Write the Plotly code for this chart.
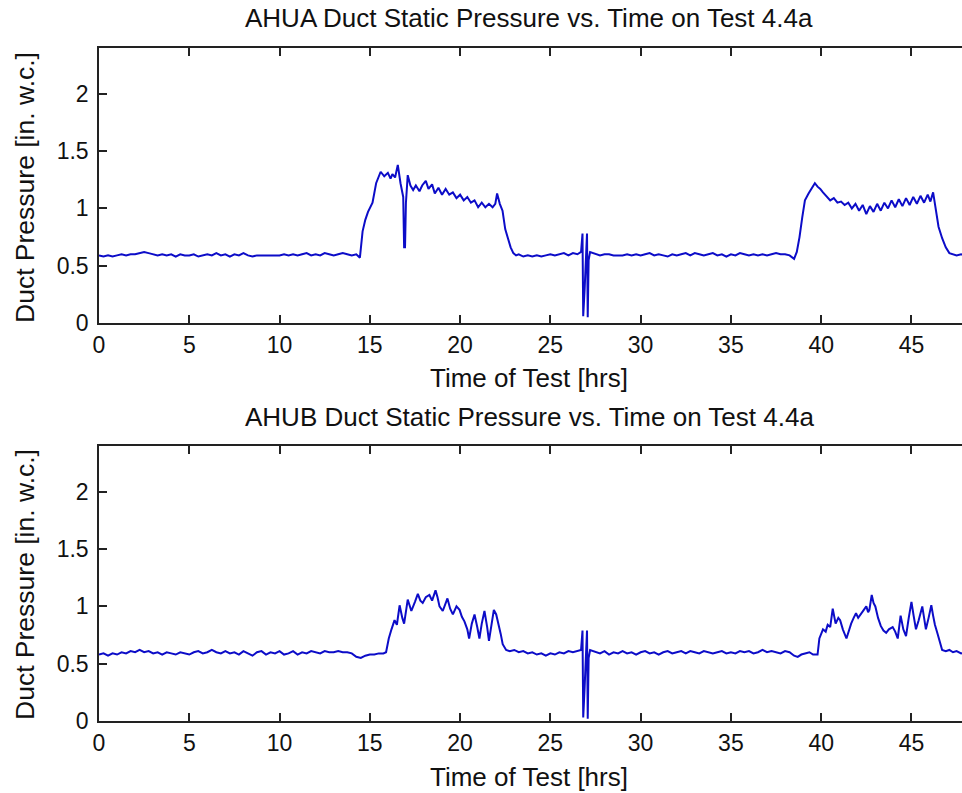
import plotly.graph_objects as go

# ---- data: (time of test [hrs], duct static pressure [in. w.c.]) ----
ahua_samples = [
    (0.0, .59), (0.25, .58), (0.5, .59), (0.75, .58), (1.0, .59), (1.25, .60), (1.5, .59), (1.75, .60),
    (2.0, .60), (2.25, .61), (2.5, .62), (2.75, .61), (3.0, .60), (3.25, .59), (3.5, .60), (3.75, .59),
    (4.0, .60), (4.25, .58), (4.5, .60), (4.75, .59), (5.0, .59), (5.25, .60), (5.5, .58), (5.75, .59),
    (6.0, .60), (6.25, .59), (6.5, .61), (6.75, .59), (7.0, .60), (7.25, .58), (7.5, .60), (7.75, .59),
    (8.0, .61), (8.25, .59), (8.5, .58), (8.75, .59), (9.0, .59), (9.25, .59), (9.5, .59), (9.75, .59),
    (10.0, .59), (10.25, .60), (10.5, .59), (10.75, .60), (11.0, .59), (11.25, .60), (11.5, .61), (11.75, .59),
    (12.0, .60), (12.25, .59), (12.5, .61), (12.75, .60), (13.0, .59), (13.25, .60), (13.5, .61), (13.75, .60),
    (14.0, .59), (14.25, .60), (14.45, .57), (14.6, .80), (14.75, .90), (14.9, .97), (15.15, 1.05), (15.35, 1.22),
    (15.5, 1.28), (15.6, 1.32), (15.8, 1.28), (16.0, 1.31), (16.15, 1.26), (16.25, 1.30), (16.4, 1.27), (16.55, 1.38),
    (16.7, 1.22), (16.85, 1.10), (16.9, 0.66), (16.95, 0.66), (17.0, 1.05), (17.1, 1.29), (17.25, 1.20), (17.4, 1.16),
    (17.55, 1.20), (17.75, 1.15), (17.9, 1.20), (18.1, 1.24), (18.25, 1.17), (18.45, 1.21), (18.6, 1.13), (18.8, 1.18),
    (19.0, 1.12), (19.2, 1.17), (19.4, 1.12), (19.6, 1.14), (19.8, 1.09), (20.0, 1.12), (20.2, 1.07), (20.4, 1.10),
    (20.6, 1.05), (20.8, 1.07), (21.0, 1.01), (21.2, 1.05), (21.4, 1.01), (21.6, 1.04), (21.8, 1.01), (21.95, 1.04),
    (22.05, 1.13), (22.2, 1.04), (22.35, 0.98), (22.5, 0.82), (22.65, 0.74), (22.8, 0.66), (22.95, 0.61), (23.1, 0.59),
    (23.25, .60), (23.5, .58), (23.75, .59), (24.0, .58), (24.25, .59), (24.5, .58), (24.75, .59), (25.0, .60),
    (25.25, .59), (25.5, .60), (25.75, .61), (26.0, .59), (26.25, .61), (26.5, .60), (26.7, .62), (26.78, .78),
    (26.82, .06), (26.9, .30), (26.97, .60), (27.03, .78), (27.07, .05), (27.12, .55), (27.2, .62), (27.5, .60),
    (27.75, .59), (28.0, .60), (28.25, .60), (28.5, .59), (28.75, .59), (29.0, .59), (29.25, .60), (29.5, .59),
    (29.75, .60), (30.0, .59), (30.25, .60), (30.5, .61), (30.75, .59), (31.0, .60), (31.25, .59), (31.5, .58),
    (31.75, .60), (32.0, .59), (32.25, .60), (32.5, .61), (32.75, .59), (33.0, .61), (33.25, .60), (33.5, .59),
    (33.75, .60), (34.0, .61), (34.25, .59), (34.5, .60), (34.75, .58), (35.0, .60), (35.25, .59), (35.5, .61),
    (35.75, .60), (36.0, .59), (36.25, .60), (36.5, .59), (36.75, .60), (37.0, .59), (37.25, .60), (37.5, .61),
    (37.75, .60), (38.0, .60), (38.25, .59), (38.5, .56), (38.65, .62), (38.8, .75), (38.95, .92), (39.1, 1.07),
    (39.3, 1.13), (39.5, 1.18), (39.65, 1.22), (39.8, 1.19), (39.95, 1.17), (40.1, 1.14), (40.3, 1.10), (40.5, 1.07),
    (40.7, 1.09), (40.9, 1.05), (41.1, 1.06), (41.3, 1.03), (41.5, 1.05), (41.7, 1.00), (41.9, 1.04), (42.1, 0.98),
    (42.3, 1.03), (42.5, 0.95), (42.7, 1.02), (42.9, 0.97), (43.1, 1.04), (43.3, 0.98), (43.5, 1.05), (43.7, 1.00),
    (43.9, 1.07), (44.1, 1.01), (44.3, 1.08), (44.5, 1.02), (44.7, 1.09), (44.9, 1.03), (45.1, 1.10), (45.3, 1.04),
    (45.5, 1.11), (45.7, 1.05), (45.9, 1.12), (46.05, 1.06), (46.2, 1.14), (46.35, 0.98), (46.5, 0.84), (46.7, 0.74),
    (46.9, 0.66), (47.1, 0.61), (47.3, 0.60), (47.5, 0.59), (47.75, 0.60), (48.0, 0.59),
]

ahub_samples = [
    (0.0, .58), (0.25, .59), (0.5, .57), (0.75, .59), (1.0, .58), (1.25, .60), (1.5, .59), (1.75, .61),
    (2.0, .60), (2.25, .62), (2.5, .60), (2.75, .61), (3.0, .59), (3.25, .60), (3.5, .58), (3.75, .60),
    (4.0, .59), (4.25, .58), (4.5, .60), (4.75, .59), (5.0, .58), (5.25, .60), (5.5, .61), (5.75, .59),
    (6.0, .60), (6.25, .62), (6.5, .60), (6.75, .59), (7.0, .61), (7.25, .59), (7.5, .60), (7.75, .58),
    (8.0, .61), (8.25, .59), (8.5, .57), (8.75, .60), (9.0, .61), (9.25, .58), (9.5, .60), (9.75, .59),
    (10.0, .61), (10.25, .58), (10.5, .59), (10.75, .61), (11.0, .58), (11.25, .60), (11.5, .59), (11.75, .61),
    (12.0, .60), (12.25, .59), (12.5, .61), (12.75, .60), (13.0, .60), (13.25, .61), (13.5, .60), (13.75, .60),
    (14.0, .59), (14.25, .56), (14.5, .55), (14.75, .57), (15.0, .58), (15.25, .58), (15.5, .59), (15.75, .59),
    (15.9, .60), (16.05, .72), (16.2, .80), (16.37, .88), (16.5, .84), (16.65, 1.01), (16.8, .90), (16.9, .85),
    (17.1, 1.06), (17.3, .96), (17.5, 1.04), (17.66, 1.11), (17.8, 1.05), (17.93, 1.03), (18.1, 1.08), (18.3, 1.10),
    (18.45, 1.05), (18.64, 1.14), (18.75, 1.08), (18.86, 1.00), (19.04, .96), (19.15, 1.01), (19.3, 1.07), (19.45, .98),
    (19.6, .93), (19.8, 1.00), (19.97, .97), (20.1, .91), (20.24, .87), (20.4, .80), (20.5, .72), (20.65, .85),
    (20.8, .93), (20.95, .82), (21.07, .72), (21.2, .85), (21.35, .96), (21.5, .82), (21.6, .70), (21.75, .85),
    (21.87, .97), (22.0, .93), (22.1, .87), (22.25, .76), (22.36, .67), (22.55, .62), (22.75, .61), (23.0, .62),
    (23.25, .60), (23.5, .61), (23.75, .59), (24.0, .60), (24.25, .58), (24.5, .59), (24.75, .57), (25.0, .59),
    (25.25, .58), (25.5, .60), (25.75, .59), (26.0, .61), (26.25, .60), (26.5, .61), (26.7, .62), (26.78, .79),
    (26.82, .03), (26.9, .30), (26.97, .62), (27.03, .79), (27.07, .02), (27.12, .55), (27.2, .62), (27.5, .60),
    (27.75, .59), (28.0, .61), (28.25, .58), (28.5, .60), (28.75, .59), (29.0, .61), (29.25, .59), (29.5, .60),
    (29.75, .58), (30.0, .60), (30.25, .61), (30.5, .59), (30.75, .60), (31.0, .58), (31.25, .60), (31.5, .61),
    (31.75, .59), (32.0, .60), (32.25, .61), (32.5, .59), (32.75, .61), (33.0, .60), (33.25, .59), (33.5, .61),
    (33.75, .60), (34.0, .59), (34.25, .60), (34.5, .61), (34.75, .59), (35.0, .60), (35.25, .59), (35.5, .61),
    (35.75, .60), (36.0, .61), (36.25, .59), (36.5, .60), (36.75, .62), (37.0, .60), (37.25, .61), (37.5, .60),
    (37.75, .59), (38.0, .61), (38.25, .60), (38.5, .57), (38.7, .56), (38.9, .58), (39.1, .59), (39.35, .60),
    (39.55, .58), (39.8, .58), (39.9, .72), (40.1, .80), (40.25, .78), (40.36, .84), (40.5, .82), (40.64, .98),
    (40.8, .85), (40.95, .90), (41.05, .88), (41.2, .80), (41.4, .72), (41.55, .80), (41.66, .85), (41.8, .90),
    (41.93, .94), (42.05, .90), (42.2, .93), (42.35, .96), (42.5, 1.00), (42.6, .95), (42.67, .97), (42.8, 1.10),
    (42.9, 1.03), (43.0, 1.00), (43.15, .90), (43.3, .83), (43.45, .79), (43.6, .77), (43.75, .80), (43.96, .82),
    (44.1, .78), (44.24, .72), (44.4, .92), (44.55, .80), (44.7, .74), (44.85, .90), (45.0, 1.04), (45.12, .92),
    (45.25, .80), (45.4, .88), (45.6, 1.00), (45.7, .90), (45.8, .80), (45.95, .90), (46.1, 1.01), (46.2, .92),
    (46.3, .84), (46.45, .76), (46.6, .68), (46.7, .62), (46.9, .61), (47.1, .62), (47.3, .60), (47.5, .61),
    (47.75, .59), (48.0, .60),
]

hours_a = [t for t, _ in ahua_samples]
pressure_a = [p for _, p in ahua_samples]
hours_b = [t for t, _ in ahub_samples]
pressure_b = [p for _, p in ahub_samples]

x_ticks = [0, 5, 10, 15, 20, 25, 30, 35, 40, 45]
y_ticks = [0, 0.5, 1, 1.5, 2]
y_tick_text = ["0", "0.5", "1", "1.5", "2"]
titles = ["AHUA Duct Static Pressure vs. Time on Test 4.4a",
          "AHUB Duct Static Pressure vs. Time on Test 4.4a"]
x_label = "Time of Test [hrs]"
y_label = "Duct Pressure [in. w.c.]"

# body margin is removed on load (post_script), so figure pixels = screen pixels
W, H = 962, 793
L = 99
FONT = "Liberation Sans, Arial, sans-serif"
AX = "#222222"
LINE = "#0c0cc8"

fig = go.Figure()
fig.add_trace(go.Scatter(x=hours_a, y=pressure_a, mode="lines",
                         line=dict(color=LINE, width=2), xaxis="x", yaxis="y", showlegend=False))
fig.add_trace(go.Scatter(x=hours_b, y=pressure_b, mode="lines",
                         line=dict(color=LINE, width=2), xaxis="x2", yaxis="y2", showlegend=False))


def px_dom(top, bottom):
    return [1 - bottom / H, 1 - top / H]


TICKFONT = dict(family=FONT, size=23, color="#111")
xcommon = dict(range=[0, 47.8], tickvals=x_ticks, ticks="inside", ticklen=8, tickwidth=1.5,
               tickcolor=AX, showline=True, linecolor=AX, linewidth=1.5, mirror="ticks",
               showgrid=False, zeroline=False, tickfont=TICKFONT, automargin=False,
               domain=[0, 1], ticklabelstandoff=1)
ycommon = dict(range=[0, 2.4], tickvals=y_ticks, ticktext=y_tick_text, ticks="inside", ticklen=8,
               tickwidth=1.5, tickcolor=AX, showline=True, linecolor=AX, linewidth=1.5, mirror=False,
               showgrid=False, zeroline=False, tickfont=TICKFONT, automargin=False,
               ticklabelstandoff=4)
yright = dict(range=[0, 2.4], tickvals=y_ticks, ticks="inside", ticklen=6, tickwidth=1.5,
              tickcolor="#555", showline=False, showticklabels=False, showgrid=False, zeroline=False,
              side="right", automargin=False)

dom_a = px_dom(48, 323)
dom_b = px_dom(446, 721)

fig.update_layout(
    width=W, height=H,
    margin=dict(l=L, r=0, t=0, b=0, autoexpand=False),
    paper_bgcolor="white", plot_bgcolor="white",
    xaxis=dict(xcommon, anchor="y"),
    yaxis=dict(ycommon, domain=dom_a, anchor="x"),
    xaxis2=dict(xcommon, anchor="y2"),
    yaxis2=dict(ycommon, domain=dom_b, anchor="x2"),
    yaxis3=dict(yright, overlaying="y", anchor="x"),
    yaxis4=dict(yright, overlaying="y2", anchor="x2"),
)

PW = W - L


def paper_x(px):
    return (px - L) / PW


def paper_y(py):
    return 1 - py / H


ann = []
for title, ty, xly, yly in [(titles[0], 18.5, 378, 188), (titles[1], 417, 777, 585)]:
    ann.append(dict(text=title, x=paper_x(529), y=paper_y(ty), xref="paper", yref="paper",
                    xanchor="center", yanchor="middle", showarrow=False,
                    font=dict(family=FONT, size=26, color="#111")))
    ann.append(dict(text=x_label, x=paper_x(529), y=paper_y(xly), xref="paper", yref="paper",
                    xanchor="center", yanchor="middle", showarrow=False,
                    font=dict(family=FONT, size=26, color="#111")))
    ann.append(dict(text=y_label, x=paper_x(25), y=paper_y(yly), xref="paper", yref="paper",
                    xanchor="center", yanchor="middle", showarrow=False, textangle=-90,
                    font=dict(family=FONT, size=26.5, color="#111")))
fig.update_layout(annotations=ann)

fig.write_html("out.html", config={"displayModeBar": False},
               post_script="document.body.style.margin='0';")
